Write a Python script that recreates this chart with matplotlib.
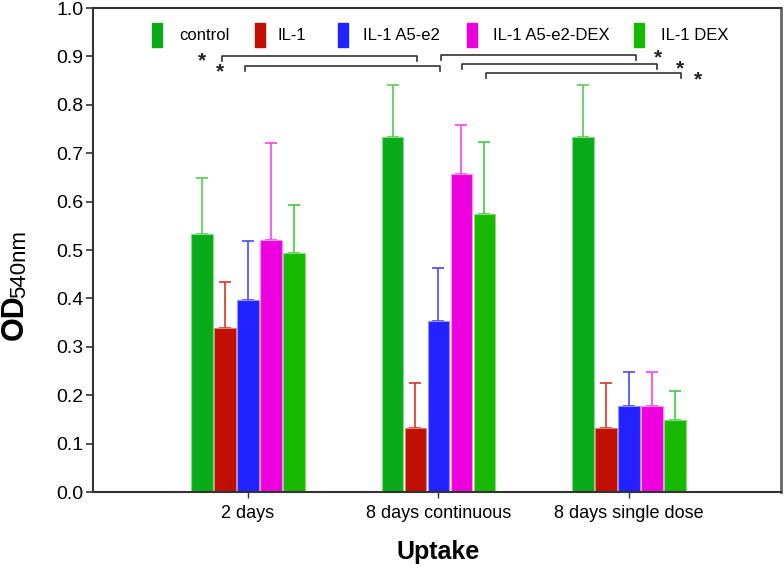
import numpy as np
import matplotlib
matplotlib.use('Agg')
from matplotlib import pyplot as plt
from matplotlib.patches import Rectangle

plt.rcParams['font.family'] = ['Liberation Sans', 'DejaVu Sans']

# data
groups = ['2 days', '8 days continuous', '8 days single dose']
series = ['control', 'IL-1', 'IL-1 A5-e2', 'IL-1 A5-e2-DEX', 'IL-1 DEX']
control = [0.533, 0.734, 0.734]
il1 = [0.339, 0.133, 0.133]
a5e2 = [0.397, 0.354, 0.178]
a5e2_dex = [0.521, 0.657, 0.178]
dex = [0.493, 0.574, 0.149]
control_err = [0.115, 0.108, 0.108]
il1_err = [0.095, 0.092, 0.092]
a5e2_err = [0.122, 0.109, 0.071]
a5e2_dex_err = [0.200, 0.101, 0.071]
dex_err = [0.101, 0.150, 0.060]

# significance brackets (data coords) and stars
br_x1 = [-0.138, -0.016, 1.013, 1.123, 1.249]
br_x2 = [0.886, 1.008, 2.035, 2.147, 2.271]
br_y = [0.901, 0.880, 0.903, 0.884, 0.866]
star_x = [-0.241, -0.147, 2.152, 2.268, 2.362]
star_y = [0.890, 0.868, 0.897, 0.874, 0.851]

values = [control, il1, a5e2, a5e2_dex, dex]
errors = [control_err, il1_err, a5e2_err, a5e2_dex_err, dex_err]
colors = ['#0aab1a', '#c00f00', '#2222ff', '#ee00de', '#19b800']
edge_colors = ['#7fe07f', '#e08070', '#9090ff', '#ff90f0', '#80e070']
err_colors = ['#55cc55', '#dd3322', '#4848ff', '#ff40ee', '#40cc40']

fig = plt.figure(figsize=(7.84, 5.68), dpi=100)
ax = fig.add_axes([0.1186, 0.1338, 0.8775, 0.852])

x = np.arange(len(groups))
pitch = 0.1207
width = 0.112
for i in range(len(series)):
    pos = x + (i - 2) * pitch
    ax.bar(pos, values[i], width, color=colors[i], edgecolor=edge_colors[i],
           linewidth=0.8, zorder=2)
    ax.errorbar(pos, values[i], yerr=[np.zeros(3), errors[i]], fmt='none',
                ecolor=err_colors[i], elinewidth=1.2, capsize=4.5,
                capthick=1.2, zorder=1)

for x1, x2, y in zip(br_x1, br_x2, br_y):
    ax.plot([x1, x1, x2, x2], [y - 0.0103, y, y, y - 0.0103], color='#333333',
            lw=1.2, zorder=3)
for sx, sy in zip(star_x, star_y):
    ax.text(sx, sy, '*', ha='center', va='center', fontsize=15,
            fontweight='bold', color='#222222')

# legend
patch_x = [0.0858, 0.2355, 0.3561, 0.5436, 0.7863]
text_x = [0.125, 0.2689, 0.3924, 0.5814, 0.8256]
for i in range(len(series)):
    ax.add_patch(Rectangle((patch_x[i], 0.919), 0.0145, 0.05,
                           transform=ax.transAxes, color=colors[i],
                           clip_on=False))
    ax.text(text_x[i], 0.943, series[i], transform=ax.transAxes,
            ha='left', va='center', fontsize=12)

ax.set_xlim(-0.814, 2.798)
ax.set_ylim(0, 1.0)
ax.set_yticks(np.arange(0, 1.01, 0.1))
ax.set_yticklabels(['%.1f' % v for v in np.arange(0, 1.01, 0.1)], fontsize=14)
ax.set_xticks(x)
ax.set_xticklabels(groups, fontsize=13)
ax.tick_params(axis='y', length=5, width=1.2, color='#333333', pad=2)
ax.tick_params(axis='x', length=4, width=1, color='#333333', pad=5)

for s in ['left', 'bottom', 'top']:
    ax.spines[s].set_color('#333333')
    ax.spines[s].set_linewidth(1.5)
ax.spines['right'].set_color('#666666')
ax.spines['right'].set_linewidth(2)

fig.text(438 / 784, 1 - 552 / 568, 'Uptake', ha='center', va='center',
         fontsize=18, fontweight='bold')
# y label: bold OD with larger-than-usual subscript
fig.text(15 / 784, 1 - 340 / 568, 'OD', rotation=90, ha='center',
         va='bottom', fontsize=22, fontweight='bold')
fig.text(20 / 784, 1 - 298 / 568, '540nm', rotation=90, ha='center',
         va='bottom', fontsize=16)

fig.savefig('out.png', dpi=100)
